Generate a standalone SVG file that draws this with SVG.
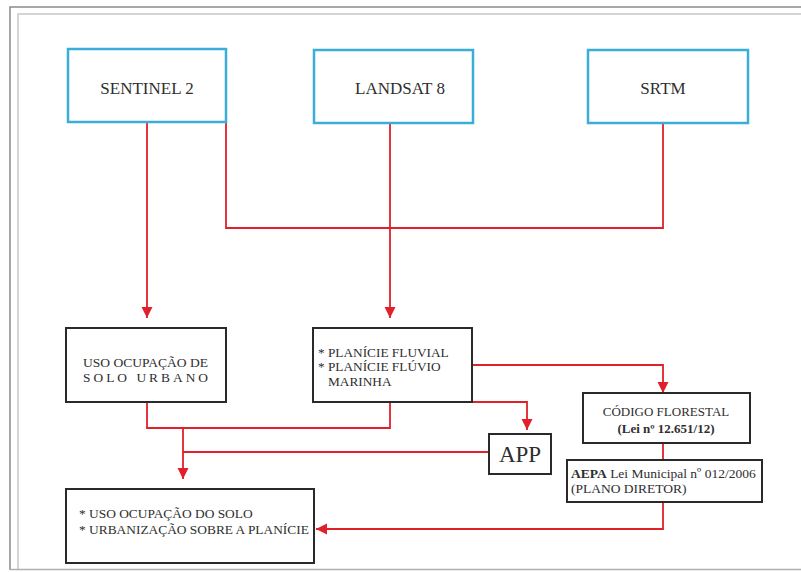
<svg xmlns="http://www.w3.org/2000/svg" width="801" height="572" viewBox="0 0 801 572">
<style>
.blue{fill:#ffffff;stroke:#3aaed8;stroke-width:2.5}
.blk{fill:#ffffff;stroke:#2a2a2a;stroke-width:2}
.t{font-family:"Liberation Serif","Times New Roman",serif;fill:#2e2e2e}
.c{stroke:#e0202a;stroke-width:1.8;fill:none}
</style>
<defs>
<marker id="ah" markerUnits="userSpaceOnUse" markerWidth="12" markerHeight="12" refX="11" refY="5.5" orient="auto">
<path d="M0,0 L11,5.5 L0,11 Z" fill="#e0202a"/>
</marker>
</defs>
<rect x="0" y="0" width="801" height="572" fill="#ffffff"/>
<g id="frame">
<path d="M10,570 L10,7 L801,7" fill="none" stroke="#8a8a8a" stroke-width="1.5"/>
<path d="M18,569 L18,14 L801,14" fill="none" stroke="#c8c8c8" stroke-width="1.5"/>
<path d="M10,569.5 L801,569.5" fill="none" stroke="#b0b0b0" stroke-width="1.5"/>
</g>
<g id="connectors">
<path class="c" d="M147,122 L147,318" marker-end="url(#ah)"/>
<path class="c" d="M226,122 L226,228 L663,228 L663,123"/>
<path class="c" d="M390,123 L390,318" marker-end="url(#ah)"/>
<path class="c" d="M147,402 L147,428 L390,428 L390,402"/>
<path class="c" d="M183,428 L183,479" marker-end="url(#ah)"/>
<path class="c" d="M183,452 L489,452"/>
<path class="c" d="M472,365 L663,365 L663,393" marker-end="url(#ah)"/>
<path class="c" d="M472,402 L527,402 L527,430" marker-end="url(#ah)"/>
<path class="c" d="M663,443 L663,460"/>
<path class="c" d="M663,502 L663,529 L316,529" marker-end="url(#ah)"/>
</g>
<g id="sentinel2">
<rect class="blue" x="68" y="49" width="158" height="73"/>
<text class="t" x="147" y="94" font-size="17" text-anchor="middle">SENTINEL 2</text>
</g>
<g id="landsat8">
<rect class="blue" x="314" y="50" width="159" height="73"/>
<text class="t" x="400" y="94" font-size="17" text-anchor="middle">LANDSAT 8</text>
</g>
<g id="srtm">
<rect class="blue" x="588" y="50" width="160" height="73"/>
<text class="t" x="663" y="94" font-size="17" text-anchor="middle">SRTM</text>
</g>
<g id="uso-solo-urbano">
<rect class="blk" x="66" y="328" width="160" height="74"/>
<text class="t" x="83" y="367" font-size="13.4" textLength="125" lengthAdjust="spacingAndGlyphs">USO OCUPAÇÃO DE</text>
<text class="t" x="83" y="382" font-size="13.4" textLength="125" lengthAdjust="spacing">SOLO URBANO</text>
</g>
<g id="planicie">
<rect class="blk" x="313" y="328" width="159" height="74"/>
<text class="t" x="318" y="357" font-size="13.3">* PLANÍCIE FLUVIAL</text>
<text class="t" x="318" y="371" font-size="13.3">* PLANÍCIE FLÚVIO</text>
<text class="t" x="328" y="386" font-size="13.3">MARINHA</text>
</g>
<g id="app">
<rect class="blk" x="489" y="434" width="62" height="40"/>
<text class="t" x="520" y="462" font-size="23" text-anchor="middle">APP</text>
</g>
<g id="codigo-florestal">
<rect class="blk" x="583" y="393" width="167" height="50"/>
<text class="t" x="666" y="416" font-size="13" text-anchor="middle">CÓDIGO FLORESTAL</text>
<text class="t" x="666" y="433" font-size="13" font-weight="bold" text-anchor="middle">(Lei nº 12.651/12)</text>
</g>
<g id="aepa">
<rect class="blk" x="567" y="460" width="195" height="42"/>
<text class="t" x="571" y="478" font-size="13.5"><tspan font-weight="bold">AEPA</tspan> Lei Municipal nº 012/2006</text>
<text class="t" x="571" y="493" font-size="13.5">(PLANO DIRETOR)</text>
</g>
<g id="resultado">
<rect class="blk" x="66" y="489" width="248" height="74"/>
<text class="t" x="79" y="518" font-size="13.4">* USO OCUPAÇÃO DO SOLO</text>
<text class="t" x="79" y="534" font-size="13.4">* URBANIZAÇÃO SOBRE A PLANÍCIE</text>
</g>
</svg>
